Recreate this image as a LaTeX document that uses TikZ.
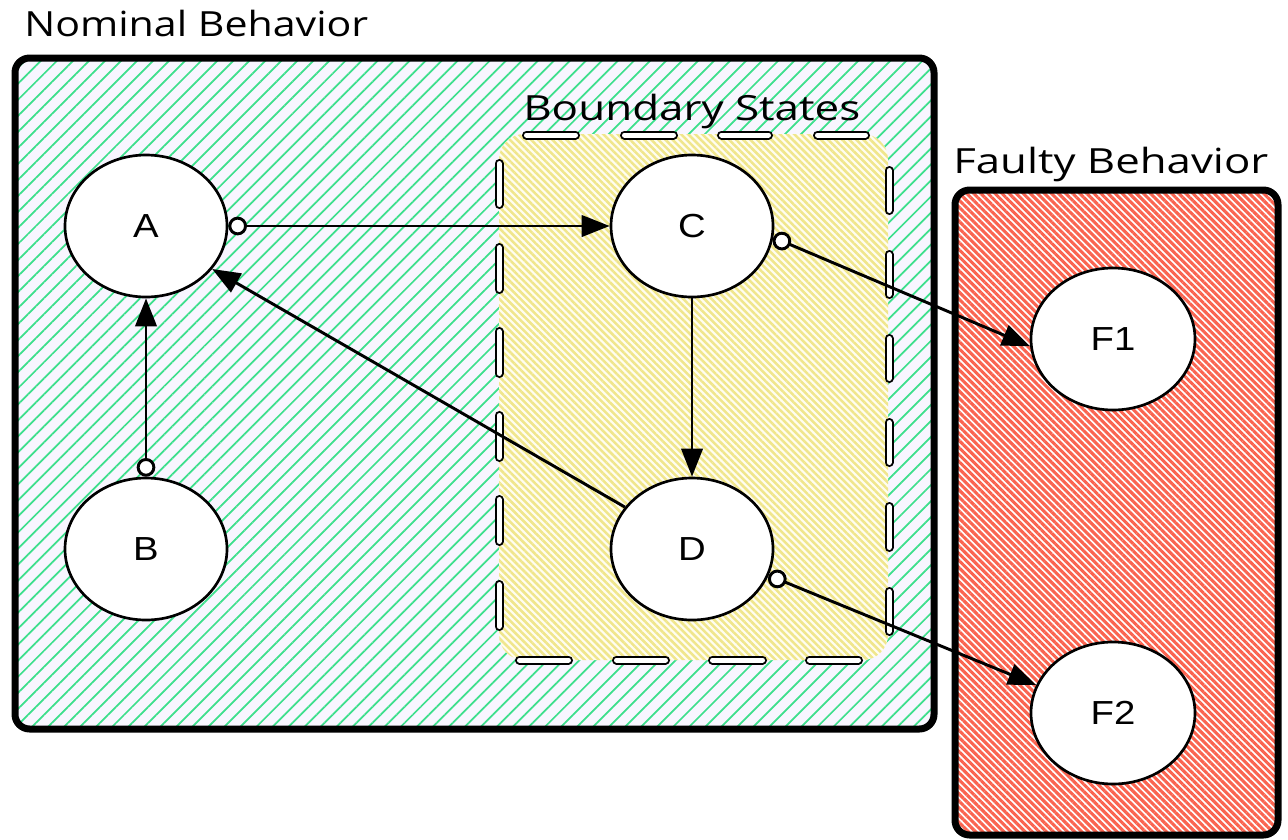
\documentclass[tikz,border=0pt]{standalone}
\usepackage{fontspec}
\usepackage{graphicx}
\setmainfont{Liberation Sans}
\newfontfamily\titlefont{Open Sans}
\usetikzlibrary{shapes.geometric,arrows.meta,patterns.meta}
\definecolor{lav}{HTML}{F8F6FF}
\definecolor{mgreen}{HTML}{3DDF8C}
\definecolor{ybg}{HTML}{FFFDF0}
\definecolor{ystripe}{HTML}{F0E68C}
\definecolor{rstripe}{HTML}{FA6450}
\begin{document}
\begin{tikzpicture}[x=0.75pt,y=-0.75pt,
  state/.style={ellipse,draw,fill=white,line width=2pt,minimum width=121.5pt,minimum height=106.5pt,inner sep=0pt,font=\fontsize{25}{30}\selectfont},
  fstate/.style={state,minimum width=123pt},
  flow/.style={line width=2.2pt,-{Triangle[length=21pt,width=16pt]}},
  otail/.style={{Circle[open,fill=white,length=14pt]}-{Triangle[length=21pt,width=16pt]}},
  title/.style={anchor=base west,inner sep=0pt,font=\titlefont\fontsize{26}{30}\selectfont},
  bdash/.style={line width=1.5pt,double=white,double distance=3.75pt,line cap=round},
  frame/.style={line width=5.25pt,rounded corners=11pt}
]
\useasboundingbox (0,0) rectangle (1288,839);

% Nominal behaviour region
\fill[lav,rounded corners=11pt] (15,58) rectangle (934,729);
\fill[pattern={Lines[angle=45,distance=8.5pt,line width=1.3pt]},pattern color=mgreen,rounded corners=11pt] (15,58) rectangle (934,729);
\draw[frame] (15,58) rectangle (934,729);

% Boundary states region
\fill[ybg,rounded corners=19pt] (499,134) rectangle (888,660);
\fill[pattern={Lines[angle=-45,distance=3.75pt,line width=1.9pt]},pattern color=ystripe,rounded corners=19pt] (499,134) rectangle (888,660);
\foreach \a/\b in {522/580,620/678,717/773,813/870}
  \draw[bdash] (\a+4.5,135) -- (\b-4.5,135);
\foreach \a/\b in {515/573,612/670,708/767,805/863}
  \draw[bdash] (\a+4.5,660) -- (\b-4.5,660);
\foreach \a/\b in {159/209,243/294,327/378,411/462,495/546,580/631}
  \draw[bdash] (499,\a+4.5) -- (499,\b-4.5);
\foreach \a/\b in {166/215,250/299,334/383,418/467,502/552,587/636}
  \draw[bdash] (889,\a+4.5) -- (889,\b-4.5);

% Faulty behaviour region
\fill[white,rounded corners=11pt] (955,190) rectangle (1278,835);
\fill[pattern={Lines[angle=-45,distance=3.75pt,line width=2.3pt]},pattern color=rstripe,rounded corners=11pt] (955,190) rectangle (1278,835);
\draw[frame] (955,190) rectangle (1278,835);

% Titles
\node[title] (tn) at (24,36) {\resizebox{258pt}{\height}{Nominal Behavior}};
\node[title] (tb) at (523,120) {\resizebox{252.75pt}{\height}{Boundary States}};
\node[title] (tf) at (953,173) {\resizebox{236.25pt}{\height}{Faulty Behavior}};

% States
\node[state] (A) at (146,226) {\scalebox{1.15}[1]{A}};
\node[state] (B) at (146,549) {\scalebox{1.15}[1]{B}};
\node[state] (C) at (692,226) {\scalebox{1.15}[1]{C}};
\node[state] (D) at (692,549) {\scalebox{1.15}[1]{D}};
\node[fstate] (F1) at (1113,339) {\scalebox{1.15}[1]{F1}};
\node[fstate] (F2) at (1113,713) {\scalebox{1.15}[1]{F2}};

% Transitions
\draw[flow,otail] (A.east) -- (C.west);
\draw[flow,otail] (B.north) -- (A.south);
\draw[flow] (C.south) -- (D.north);
\draw[flow] (D.148) -- (A.-33);
\draw[flow,otail] (C.-8) -- (F1.185);
\draw[flow,otail] (D.-19) -- (F2.160);
\end{tikzpicture}
\end{document}
